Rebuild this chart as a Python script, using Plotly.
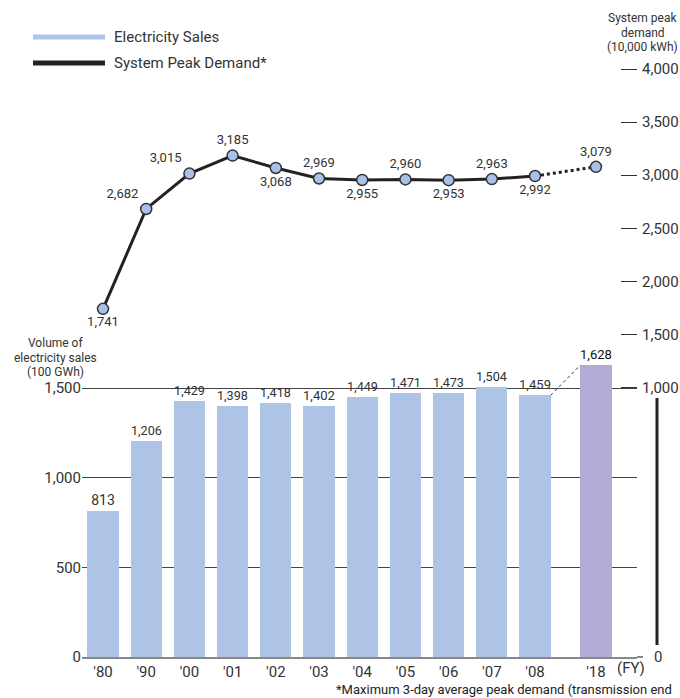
import plotly.graph_objects as go

years = ["'80", "'90", "'00", "'01", "'02", "'03", "'04", "'05", "'06", "'07", "'08", "'18"]
sales = [813, 1206, 1429, 1398, 1418, 1402, 1449, 1471, 1473, 1504, 1459, 1628]
peak = [1741, 2682, 3015, 3185, 3068, 2969, 2955, 2960, 2953, 2963, 2992, 3079]
left_ticks = [0, 500, 1000, 1500]
right_ticks = [1000, 1500, 2000, 2500, 3000, 3500, 4000]

W, H = 680, 698
L, R, T, B = 82, 637, 60, 657
FONT = "Roboto"

# numeric x positions: the last (forecast) year is set apart by a wider gap
xpos = [i if i < len(years) - 1 else i + 0.41 for i in range(len(years))]

def px(x):
    return (x - L) / (R - L)

def py(y):
    return (B - y) / (B - T)

bar_colors = ["#aec4e6"] * (len(years) - 1) + ["#b0acd6"]
bar_text_colors = ["#333333"] * (len(years) - 1) + ["#111111"]

fig = go.Figure()
fig.add_trace(go.Bar(
    x=xpos, y=sales, width=0.72, marker=dict(color=bar_colors, line=dict(width=0)),
    text=[f"{v:,}" for v in sales], textposition="outside",
    textfont=dict(family=FONT, size=14, color=bar_text_colors),
    cliponaxis=False, showlegend=False, hoverinfo="skip",
))
# dotted connector from the last actual bar to the forecast bar
fig.add_trace(go.Scatter(
    x=[xpos[-2] + 0.36, xpos[-1] - 0.36], y=[sales[-2], sales[-1]],
    mode="lines", line=dict(color="#333333", width=1, dash="dot"),
    showlegend=False, hoverinfo="skip",
))
positions = ["bottom center", "top left", "top left", "top center", "bottom center",
             "top center", "bottom center", "top center", "bottom center",
             "top center", "bottom center", "top center"]
# solid line for actuals
fig.add_trace(go.Scatter(
    x=xpos[:-1], y=peak[:-1], yaxis="y2", mode="lines",
    line=dict(color="#222222", width=3), showlegend=False, hoverinfo="skip",
))
# dotted line toward forecast
fig.add_trace(go.Scatter(
    x=xpos[-2:], y=peak[-2:], yaxis="y2", mode="lines",
    line=dict(color="#222222", width=3, dash="dot"), showlegend=False, hoverinfo="skip",
))
fig.add_trace(go.Scatter(
    x=xpos, y=peak, yaxis="y2", mode="markers+text",
    marker=dict(size=11, color="#a9c1e8", line=dict(color="#333333", width=1.5)),
    text=[f"{v:,}" for v in peak], textposition=positions,
    textfont=dict(family=FONT, size=13, color="#333333"),
    cliponaxis=False, showlegend=False, hoverinfo="skip",
))

shapes = [
    # legend samples
    dict(type="line", xref="paper", yref="paper", x0=px(33), x1=px(105), y0=py(37), y1=py(37),
         line=dict(color="#aec4e6", width=5)),
    dict(type="line", xref="paper", yref="paper", x0=px(33), x1=px(105), y0=py(63), y1=py(63),
         line=dict(color="#222222", width=5)),
    # right-axis break bar
    dict(type="line", xref="paper", yref="paper", x0=px(657), x1=px(657), y0=py(398), y1=py(645),
         line=dict(color="#222222", width=3)),
    # axis baseline extension to the right
    dict(type="line", xref="paper", yref="paper", x0=1, x1=px(643), y0=0, y1=0,
         line=dict(color="#888888", width=2)),
]

ann = []
def add_text(x, y, text, size, anchor="center", color="#333333"):
    ann.append(dict(xref="paper", yref="paper", x=px(x), y=py(y), text=text, showarrow=False,
                    xanchor=anchor, yanchor="middle", font=dict(family=FONT, size=size, color=color)))

add_text(112, 37, "Electricity Sales", 15, "left")
add_text(112, 63, "System Peak Demand*", 15, "left")
add_text(55, 343, "Volume of", 12)
add_text(55, 358, "electricity sales", 12)
add_text(55, 372, "(100 GWh)", 12)
add_text(643, 18, "System peak", 12)
add_text(643, 33, "demand", 12)
add_text(643, 47, "(10,000 kWh)", 12)
add_text(658, 657, "0", 15)
add_text(631, 668, "(FY)", 15)
add_text(334, 689, "*Maximum 3-day average peak demand (transmission end", 13, "left", "#222222")

fig.update_layout(
    width=W, height=H,
    margin=dict(l=L, r=W - R, t=T, b=H - B, pad=0, autoexpand=False),
    paper_bgcolor="white", plot_bgcolor="white",
    font=dict(family=FONT, color="#333333"),
    bargap=0,
    xaxis=dict(range=[-0.486, 12.36], tickvals=xpos, ticktext=years, showgrid=False,
               zeroline=False, showline=True, linecolor="#888888", linewidth=2,
               automargin=False,
               ticks="", tickfont=dict(family=FONT, size=15, color="#333333")),
    yaxis=dict(range=[0, (B - T) / 0.17933], tickvals=left_ticks,
               ticktext=[f"{v:,}" for v in left_ticks], showgrid=True, gridcolor="#444444",
               gridwidth=1, zeroline=False, showline=False, ticks="", automargin=False,
               tickfont=dict(family=FONT, size=15, color="#333333")),
    yaxis2=dict(overlaying="y", side="right", range=[-1538, 4085], tickvals=right_ticks,
                ticktext=[f"{v:,}" for v in right_ticks], showgrid=False, zeroline=False,
                showline=False, ticks="inside", ticklen=16, tickcolor="#333333", tickwidth=1,
                ticklabelstandoff=4, automargin=False,
                tickfont=dict(family=FONT, size=15, color="#333333")),
    shapes=shapes, annotations=ann,
)

fig.write_html("out.html", config={"displayModeBar": False},
               post_script="document.body.style.margin='0';")
